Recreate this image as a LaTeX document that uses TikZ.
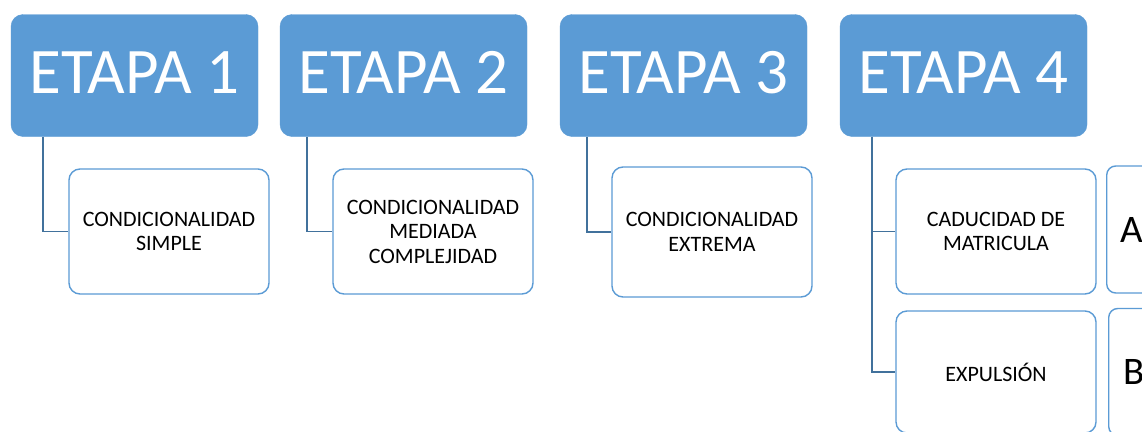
\documentclass[tikz,border=0pt]{standalone}
\usepackage{fontspec}
\setmainfont{Carlito}
\definecolor{etblue}{RGB}{91,155,213}
\definecolor{connblue}{RGB}{65,113,156}
\tikzset{
  etapa/.style={rectangle, rounded corners=12pt, fill=etblue, draw=etblue,
    minimum width=247pt, minimum height=122pt, inner sep=0pt,
    text height=45pt, text depth=10pt,
    text=white, font=\fontsize{65}{72}\selectfont},
  childbox/.style={rectangle, rounded corners=11pt, fill=white, draw=etblue, line width=1.4pt,
    minimum width=200pt, minimum height=125pt, inner sep=0pt, align=center,
    text=black, font=\fontsize{22}{24.5}\selectfont},
  letterbox/.style={rectangle, rounded corners=9pt, fill=white, draw=etblue, line width=1.4pt,
    minimum width=50pt, minimum height=127pt, inner sep=0pt, anchor=west,
    text=black, font=\fontsize{39}{44}\selectfont},
  conn/.style={draw=connblue, line width=1.4pt}
}
\begin{document}
\begin{tikzpicture}[x=1pt,y=-1pt]
\useasboundingbox[fill=white] (0,0) rectangle (1142,431);
% top boxes
\node[etapa] (e1) at (134.5,75.5) {ETAPA 1};
\node[etapa] (e2) at (403.5,75.5) {ETAPA 2};
\node[etapa] (e3) at (683.5,75.5) {ETAPA 3};
\node[etapa] (e4) at (963.5,75.5) {ETAPA 4};
% child boxes
\node[childbox] (c1) at (169,231.5) {CONDICIONALIDAD\\SIMPLE};
\node[childbox] (c2) at (433,231.5) {CONDICIONALIDAD\\MEDIADA\\COMPLEJIDAD};
\node[childbox, minimum height=130pt] (c3) at (712,232) {CONDICIONALIDAD\\EXTREMA};
\node[childbox] (c4a) at (996,231.5) {CADUCIDAD DE\\MATRICULA};
\node[childbox, minimum height=122pt] (c4b) at (996,372) {EXPULSIÓN};
% letter boxes (cut off at right edge)
\node[letterbox] (la) at (1106,229.5) {A};
\node[letterbox] (lb) at (1108,372) {B};
% connectors
\draw[conn] ([xshift=32pt]e1.south west) |- (c1.west);
\draw[conn] ([xshift=27pt]e2.south west) |- (c2.west);
\draw[conn] ([xshift=27pt]e3.south west) |- (c3.west);
\draw[conn] ([xshift=32pt]e4.south west) |- (c4a.west);
\draw[conn] ([xshift=32pt]e4.south west) |- (c4b.west);
\end{tikzpicture}
\end{document}
